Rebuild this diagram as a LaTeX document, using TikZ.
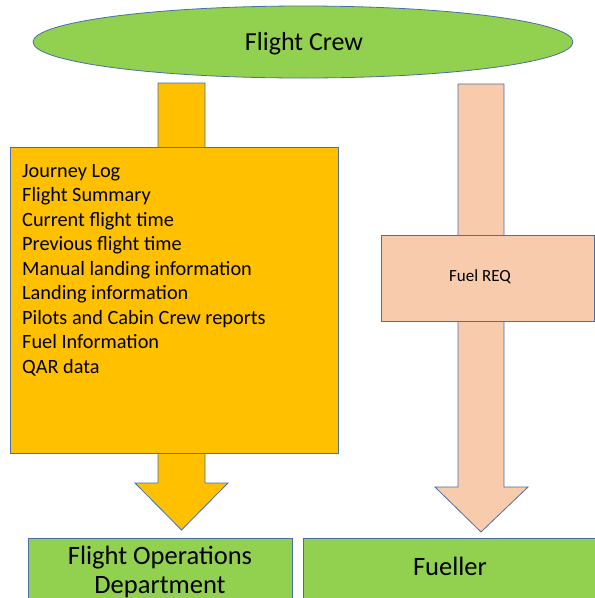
\documentclass[tikz,border=0pt]{standalone}
\usepackage{fontspec}
\setmainfont{Carlito}
\usetikzlibrary{shapes.geometric}
\definecolor{crewgreen}{HTML}{92D050}
\definecolor{logyellow}{HTML}{FFC000}
\definecolor{fuelpeach}{HTML}{F8CBAD}
\definecolor{edgeblue}{HTML}{4A6FA5}
\tikzset{
  shapeedge/.style={draw=edgeblue, line width=0.8pt},
  listline/.style={anchor=base west, inner sep=0pt, font=\fontsize{20.3}{24.5}\selectfont},
  boxlabel/.style={anchor=base, inner sep=0pt, font=\fontsize{26.5}{31}\selectfont},
}
\begin{document}
\begin{tikzpicture}[x=1pt, y=-1pt]
\useasboundingbox (0,0) rectangle (595,598);
\clip (0,0) rectangle (595,598);
% ellipse
\node[ellipse, shapeedge, fill=crewgreen, minimum width=540pt, minimum height=72pt, inner sep=0pt] (crew) at (303,42) {};
\node[anchor=base, inner sep=0pt, font=\fontsize{26}{31}\selectfont] (crewtext) at (304,50) {Flight Crew};
% yellow arrow
\draw[shapeedge, fill=logyellow] (158,83) -- (205,83) -- (205,483) -- (228,483) -- (181.5,530) -- (135,483) -- (158,483) -- cycle;
\node[draw=edgeblue, line width=0.8pt, fill=logyellow, anchor=north west, minimum width=328pt, minimum height=306pt, inner sep=0pt] (logbox) at (10,147) {};
\foreach \t [count=\i from 0] in {Journey Log, Flight Summary, Current flight time, Previous flight time, Manual landing information, Landing information, Pilots and Cabin Crew reports, Fuel Information, QAR data}{
  \node[listline] (l\i) at (22,177+24.5*\i) {\t};
}
% peach arrow
\draw[shapeedge, fill=fuelpeach] (458,84) -- (504,84) -- (504,487) -- (528,487) -- (481,532) -- (435,487) -- (458,487) -- cycle;
\node[draw=edgeblue, line width=0.8pt, fill=fuelpeach, anchor=north west, minimum width=213pt, minimum height=86pt, inner sep=0pt] (fuelbox) at (381,235) {};
\node[anchor=base, inner sep=0pt, font=\fontsize{17}{20}\selectfont] (fueltext) at (480,281) {Fuel REQ};
% green boxes
\node[draw=edgeblue, line width=0.8pt, fill=crewgreen, anchor=north west, minimum width=264pt, minimum height=80pt, inner sep=0pt] (fod) at (28,538) {};
\node[boxlabel] (fodt1) at (160,564) {Flight Operations};
\node[boxlabel] (fodt2) at (160,593) {Department};
\node[draw=edgeblue, line width=0.8pt, fill=crewgreen, anchor=north west, minimum width=300pt, minimum height=80pt, inner sep=0pt] (fueller) at (303,538) {};
\node[boxlabel] (fuellert) at (450,575) {Fueller};
\end{tikzpicture}
\end{document}
